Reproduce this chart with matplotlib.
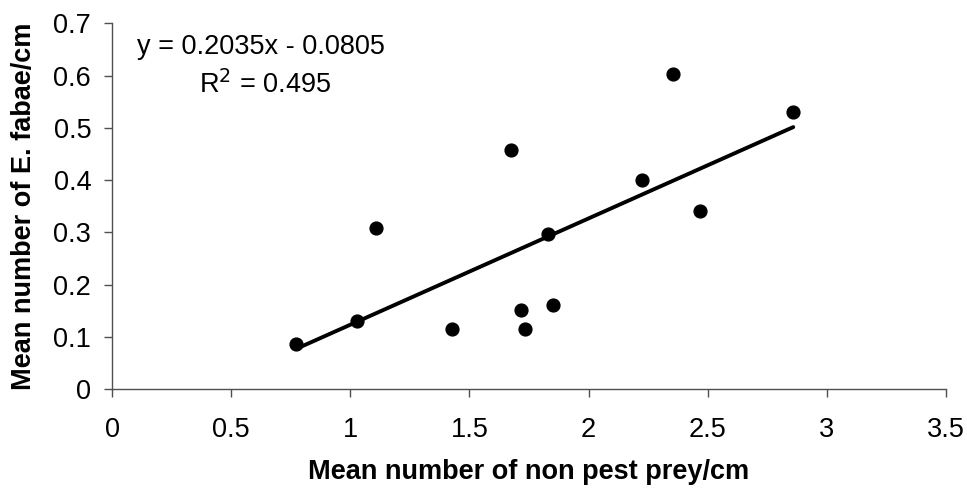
import numpy as np
import matplotlib
matplotlib.use("Agg")
import matplotlib.pyplot as plt

# ---------------- Dados ----------------
presas_nao_praga = [0.771, 1.027, 1.108, 1.425, 1.674, 1.718, 1.735, 1.831, 1.849, 2.223, 2.356, 2.469, 2.859]
e_fabae = [0.086, 0.131, 0.308, 0.114, 0.457, 0.151, 0.114, 0.296, 0.160, 0.401, 0.602, 0.340, 0.530]

inclinacao = 0.2035
intercepto = -0.0805
r2 = 0.495

x_ticks = [0, 0.5, 1, 1.5, 2, 2.5, 3, 3.5]
x_tick_labels = ["0", "0.5", "1", "1.5", "2", "2.5", "3", "3.5"]
y_ticks = [0, 0.1, 0.2, 0.3, 0.4, 0.5, 0.6, 0.7]
y_tick_labels = ["0", "0.1", "0.2", "0.3", "0.4", "0.5", "0.6", "0.7"]

# ---------------- Gráfico ----------------
plt.rcParams["font.family"] = ["Liberation Sans", "DejaVu Sans"]

fig = plt.figure(figsize=(9.67, 4.91), dpi=100)
ax = fig.add_axes([112 / 967, 1 - 389 / 491, (946 - 112) / 967, (389 - 23.3) / 491])

ax.scatter(presas_nao_praga, e_fabae, s=85, color="black", zorder=3)

xs = np.array([min(presas_nao_praga), max(presas_nao_praga)])
ax.plot(xs, inclinacao * xs + intercepto, color="black", linewidth=2.8, solid_capstyle="round")

ax.set_xlim(0, 3.5)
ax.set_ylim(0, 0.7)
ax.set_xticks(x_ticks)
ax.set_xticklabels(x_tick_labels)
ax.set_yticks(y_ticks)
ax.set_yticklabels(y_tick_labels)

for lado in ["top", "right"]:
    ax.spines[lado].set_visible(False)
for lado in ["left", "bottom"]:
    ax.spines[lado].set_color("#505050")
    ax.spines[lado].set_linewidth(1.0)

ax.tick_params(axis="x", direction="out", length=6, width=1, color="#505050", labelsize=19.5, pad=14)
ax.tick_params(axis="y", direction="out", length=6, width=1, color="#505050", labelsize=19.5, pad=9)

ax.set_xlabel("Mean number of non pest prey/cm", fontsize=19.5, fontweight="bold", labelpad=12)
ax.set_ylabel("Mean number of E. fabae/cm", fontsize=19.5, fontweight="bold", labelpad=12)

ax.text(0.105, 0.655, f"y = {inclinacao:.4f}x - {abs(intercepto):.4f}", fontsize=19.5,
        ha="left", va="center")
ax.text(0.365, 0.582, f"R$^2$ = {r2:.3f}", fontsize=19.5, ha="left", va="center")

fig.savefig("out.png", dpi=100)
plt.close(fig)
